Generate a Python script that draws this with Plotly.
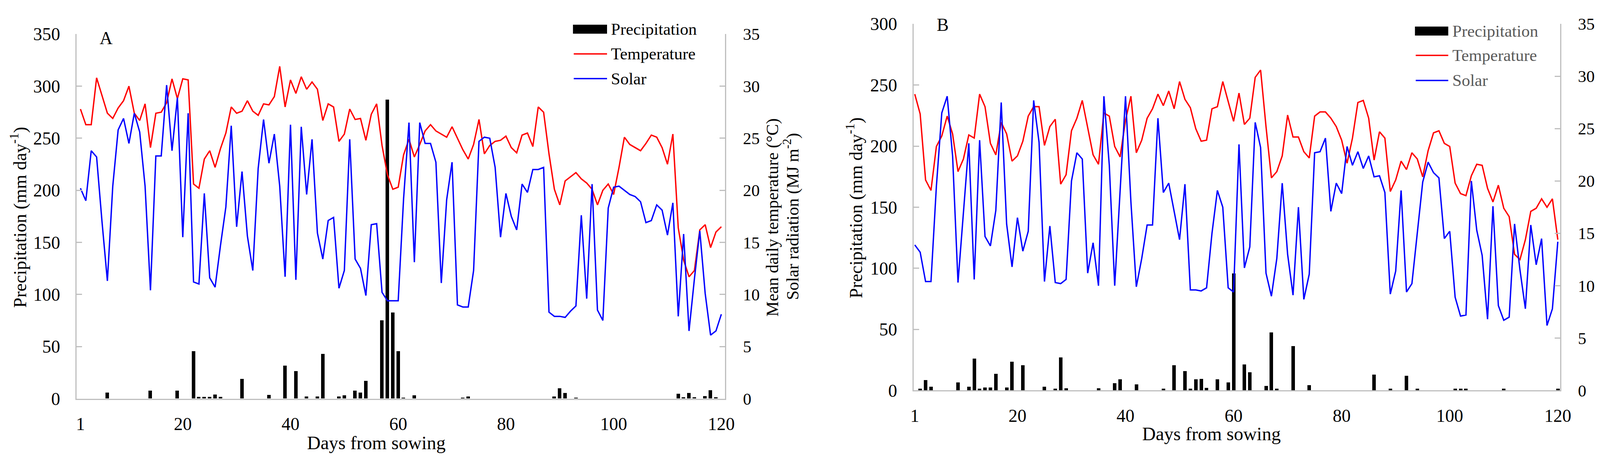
import plotly.graph_objects as go

W, H = 4236, 1193

days = list(range(1, 121))

# ---- panel A ----
temp_a = [27.8, 26.3, 26.3, 30.8, 29.1, 27.4, 26.9, 27.9, 28.6, 30.0,
          27.4, 26.7, 28.3, 24.1, 27.4, 27.5, 28.4, 30.7, 28.8, 30.7,
          30.6, 20.6, 20.2, 23.0, 23.8, 22.2, 24.0, 25.5, 28.0, 27.4,
          27.6, 28.6, 27.6, 27.2, 28.3, 28.2, 29.0, 31.9, 28.0, 30.6,
          29.3, 30.9, 29.7, 30.4, 29.7, 26.7, 28.3, 28.0, 24.7, 25.4,
          27.8, 26.8, 26.9, 24.8, 27.3, 28.3, 24.3, 21.5, 20.1, 20.3,
          23.4, 24.9, 23.2, 24.4, 25.7, 26.3, 25.7, 25.4, 25.1, 26.1,
          25.0, 23.9, 23.0, 24.4, 26.8, 23.5, 24.3, 24.7, 24.8, 25.2,
          24.1, 23.6, 25.3, 25.5, 24.2, 28.0, 27.5, 23.5, 20.1, 18.6,
          20.9, 21.3, 21.7, 21.1, 20.7, 20.1, 18.6, 20.0, 20.6, 19.6,
          22.2, 25.1, 24.4, 24.1, 23.8, 24.5, 25.3, 25.1, 24.1, 22.5,
          25.4, 16.4, 13.3, 11.7, 12.3, 16.2, 16.7, 14.5, 16.0, 16.5]

solar_a = [20.2, 19.0, 23.8, 23.2, 17.0, 11.3, 20.4, 25.8, 26.9, 24.5,
           27.4, 25.6, 20.4, 10.4, 23.3, 23.3, 30.1, 23.8, 28.9, 15.5,
           27.4, 11.2, 11.0, 19.7, 11.6, 10.7, 14.7, 18.4, 26.2, 16.5,
           21.8, 15.6, 12.3, 22.1, 26.8, 22.6, 25.4, 20.4, 11.7, 26.3,
           11.4, 26.1, 19.6, 24.9, 15.9, 13.4, 17.1, 17.4, 10.6, 12.3,
           24.9, 13.4, 12.5, 9.9, 16.7, 16.8, 10.2, 9.4, 9.4, 9.4,
           19.2, 26.5, 13.1, 26.5, 24.5, 24.5, 22.7, 11.1, 19.1, 22.7,
           9.0, 8.8, 8.8, 12.3, 24.7, 25.1, 25.0, 22.2, 15.5, 19.7,
           17.5, 16.2, 20.6, 19.8, 22.0, 22.0, 22.2, 8.3, 7.9, 7.9,
           7.8, 8.4, 8.9, 17.6, 9.6, 20.6, 8.5, 7.5, 18.3, 20.3,
           20.4, 20.0, 19.6, 19.4, 18.9, 16.9, 17.1, 18.6, 18.1, 15.7,
           18.8, 7.9, 15.8, 6.5, 11.5, 16.1, 10.1, 6.1, 6.5, 8.1]

rain_a_days = [6, 14, 19, 22, 23, 24, 25, 26, 27, 31, 36, 39, 41, 43, 45, 46,
               49, 50, 52, 53, 54, 57, 58, 59, 60, 61, 63, 72, 73, 89, 90, 91,
               93, 112, 113, 114, 115, 117, 118, 119]
rain_a_mm = [5.7, 7.8, 7.8, 45.5, 1.5, 1.5, 1.5, 4.0, 1.5, 19.0, 3.5, 31.8, 26.5,
             2.0, 2.0, 43.0, 2.0, 3.0, 7.8, 5.7, 17.0, 75.0, 287.0, 82.6, 45.5,
             1.0, 3.0, 1.0, 2.0, 2.0, 9.7, 5.5, 1.0, 4.7, 1.4, 5.5, 1.4, 2.5,
             8.0, 1.4]

# ---- panel B ----
temp_b = [28.3, 26.4, 20.1, 19.1, 23.3, 24.3, 26.2, 24.5, 20.9, 22.1,
          24.4, 24.1, 28.3, 27.1, 23.6, 22.5, 25.6, 24.5, 21.9, 22.4,
          23.8, 26.2, 27.1, 27.1, 23.4, 25.2, 25.9, 19.7, 20.6, 24.8,
          26.0, 27.7, 25.1, 22.5, 21.6, 26.5, 26.2, 23.3, 22.3, 25.8,
          28.1, 22.7, 23.9, 26.0, 26.9, 28.3, 27.2, 28.6, 26.9, 29.5,
          27.8, 27.0, 25.0, 23.8, 23.9, 26.9, 27.1, 29.5, 27.6, 25.7,
          28.4, 25.4, 26.0, 29.9, 30.6, 25.2, 20.3, 20.9, 22.4, 26.3,
          24.2, 24.2, 22.8, 22.2, 26.2, 26.6, 26.6, 26.0, 25.2, 23.9,
          21.7, 24.1, 27.5, 27.7, 26.0, 22.0, 24.7, 24.1, 19.0, 20.1,
          21.9, 21.1, 22.7, 22.1, 20.4, 22.9, 24.6, 24.8, 23.6, 23.3,
          19.8, 18.8, 18.6, 20.5, 21.6, 21.5, 19.3, 18.0, 19.6, 17.4,
          16.6, 13.0, 12.5, 14.4, 17.1, 17.4, 18.3, 17.5, 18.3, 14.4]

solar_b = [13.9, 13.2, 10.4, 10.4, 19.5, 26.5, 28.1, 22.4, 10.3, 17.0,
           23.6, 10.6, 23.9, 14.7, 13.8, 17.2, 27.5, 15.9, 11.8, 16.5,
           13.3, 15.2, 27.7, 23.7, 10.4, 15.7, 10.3, 10.2, 10.6, 20.0,
           22.7, 22.1, 11.2, 14.1, 10.0, 28.1, 21.5, 10.0, 18.8, 28.1,
           18.0, 9.9, 12.6, 15.8, 15.8, 26.0, 18.9, 19.8, 17.1, 14.4,
           19.7, 9.6, 9.6, 9.5, 9.8, 15.0, 19.1, 17.5, 9.8, 9.4,
           23.5, 11.7, 13.7, 25.6, 23.2, 11.2, 9.0, 12.6, 19.8, 13.0,
           9.1, 17.5, 8.7, 11.1, 22.7, 22.8, 24.1, 17.1, 19.8, 18.8,
           23.3, 21.5, 22.8, 21.2, 22.4, 20.4, 20.5, 18.9, 9.2, 11.4,
           19.1, 9.4, 10.2, 15.1, 19.9, 21.8, 20.8, 20.3, 14.5, 15.2,
           8.9, 7.1, 7.2, 20.0, 15.3, 12.9, 6.8, 17.6, 8.1, 6.7,
           7.0, 15.9, 11.5, 7.8, 15.8, 12.0, 14.5, 6.2, 7.8, 14.2]

rain_b_days = [2, 3, 4, 9, 11, 12, 13, 14, 15, 16, 18, 19, 21, 25, 27, 28, 29,
               35, 38, 39, 42, 47, 49, 51, 52, 53, 54, 55, 57, 59, 60, 62, 63,
               66, 67, 68, 71, 74, 86, 89, 92, 94, 101, 102, 103, 110, 120]
rain_b_mm = [1.4, 8.4, 3.0, 6.5, 3.0, 26.0, 1.2, 2.3, 2.3, 13.5, 2.3, 23.5, 20.5,
             3.0, 1.2, 26.8, 1.6, 1.6, 5.8, 8.9, 4.9, 1.2, 20.5, 15.8, 1.2, 8.9,
             9.3, 1.9, 8.9, 6.5, 95.7, 21.0, 14.7, 3.7, 47.3, 1.4, 36.3, 4.2,
             12.8, 1.2, 11.9, 1.4, 1.2, 1.2, 1.2, 1.2, 1.2]

x_ticks = [1, 20, 40, 60, 80, 100, 120]

FONT = "Liberation Serif"
AXIS_GREY = "#bfbfbf"


def px(x):
    return x / W


def py(y):
    return 1 - y / H


fig = go.Figure()

# panel A: rain on the left axis, temperature and radiation on the right one
fig.add_trace(go.Bar(x=rain_a_days, y=rain_a_mm, width=0.65, marker_color="black",
                     marker_line_width=0, xaxis="x", yaxis="y", showlegend=False))
fig.add_trace(go.Scatter(x=days, y=temp_a, mode="lines", line=dict(color="#ff0000", width=3.5),
                         xaxis="x", yaxis="y2", showlegend=False))
fig.add_trace(go.Scatter(x=days, y=solar_a, mode="lines", line=dict(color="#0000ff", width=3.5),
                         xaxis="x", yaxis="y2", showlegend=False))

# panel B
fig.add_trace(go.Bar(x=rain_b_days, y=rain_b_mm, width=0.65, marker_color="black",
                     marker_line_width=0, xaxis="x2", yaxis="y3", showlegend=False))
fig.add_trace(go.Scatter(x=days, y=temp_b, mode="lines", line=dict(color="#ff0000", width=3.5),
                         xaxis="x2", yaxis="y4", showlegend=False))
fig.add_trace(go.Scatter(x=days, y=solar_b, mode="lines", line=dict(color="#0000ff", width=3.5),
                         xaxis="x2", yaxis="y4", showlegend=False))

yax = dict(showgrid=False, zeroline=False, showline=True, linecolor=AXIS_GREY, linewidth=3,
           ticks="inside", ticklen=14, tickwidth=3, tickcolor=AXIS_GREY,
           tickfont=dict(family=FONT, size=46, color="black"), ticklabelstandoff=30)
yax_right = dict(yax, tickfont=dict(family=FONT, size=43, color="black"),
                 ticklabelstandoff=34)
xax = dict(showgrid=False, zeroline=False, showline=True, linecolor=AXIS_GREY, linewidth=3,
           ticks="", tickmode="array", tickvals=x_ticks,
           tickfont=dict(family=FONT, size=46, color="black"), ticklabelstandoff=22)

fig.update_layout(
    width=W, height=H,
    margin=dict(l=0, r=0, t=0, b=0),
    paper_bgcolor="white", plot_bgcolor="white",
    font=dict(family=FONT, color="black"),
    bargap=0,
    xaxis=dict(xax, domain=[px(189), px(1864)], range=[0.3, 120.7], anchor="y"),
    yaxis=dict(yax, domain=[py(1040), py(65)], range=[0, 350], dtick=50, anchor="x"),
    yaxis2=dict(yax_right, range=[0, 35], dtick=5, overlaying="y", side="right", anchor="x"),
    xaxis2=dict(xax, domain=[px(2351), px(4021)], range=[0.79, 120.43], anchor="y3"),
    yaxis3=dict(yax, domain=[py(1018), py(38)], range=[0, 300], dtick=50, anchor="x2"),
    yaxis4=dict(yax_right, range=[0, 35], dtick=5, overlaying="y3", side="right", anchor="x2"),
)


def note(text, x, y, size, angle=0, xanchor="center", color="black"):
    fig.add_annotation(text=text, x=px(x), y=py(y), xref="paper", yref="paper",
                       xanchor=xanchor, yanchor="middle", showarrow=False, textangle=angle,
                       font=dict(family=FONT, size=size, color=color))


# axis titles and panel letters
note("A", 265, 76, 46)
note("B", 2426, 40, 46)
note("Days from sowing", 963, 1158, 48)
note("Days from sowing", 3120, 1134, 48)
note("Precipitation (mm day<sup>-1</sup>)", 39, 555, 47, angle=-90)
note("Precipitation (mm day<sup>-1</sup>)", 2198, 530, 47, angle=-90)
note("Mean daily temperature (°C)", 1986, 555, 44, angle=-90)
note("Solar radiation (MJ m<sup>-2</sup>)", 2035, 553, 44, angle=-90)
note("Mean daily temperature (°C)", 4144, 532, 47, angle=-90)
note("Solar radiation (MJ m<sup>-2</sup>)", 4196, 530, 46, angle=-90)


# legends drawn by hand so the bar key is a wide block as in the original
def legend(x0, x1, ys, tx, color):
    fig.add_shape(type="rect", xref="paper", yref="paper", x0=px(x0), x1=px(x1),
                  y0=py(ys[0] + 12), y1=py(ys[0] - 12), fillcolor="black", line_width=0)
    for yy, c in [(ys[1], "#ff0000"), (ys[2], "#0000ff")]:
        fig.add_shape(type="line", xref="paper", yref="paper", x0=px(x0 + 2), x1=px(x1),
                      y0=py(yy), y1=py(yy), line=dict(color=c, width=3.5))
    for yy, label in zip(ys, ["Precipitation", "Temperature", "Solar"]):
        note(label, tx, yy, 43, xanchor="left", color=color)


legend(1471, 1559, [52, 118, 184], 1567, "black")
legend(3646, 3732, [57, 122, 189], 3741, "#595959")

fig.write_html("out.html", config={"displayModeBar": False},
               post_script="document.body.style.margin='0';")
